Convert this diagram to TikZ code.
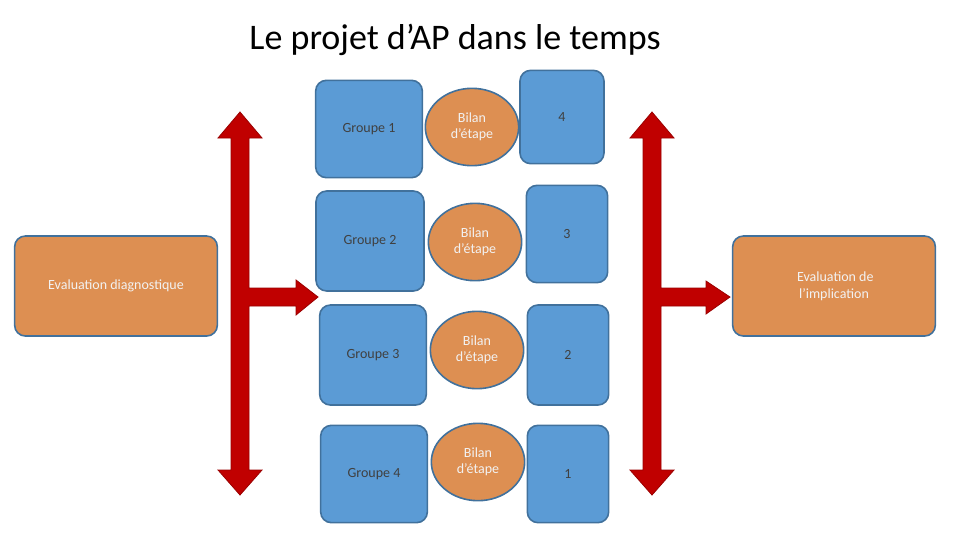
\documentclass[tikz,border=0pt]{standalone}
\usepackage{fontspec}
\setmainfont{Carlito}
\usetikzlibrary{shapes.geometric}
\definecolor{bleu}{HTML}{5B9BD5}
\definecolor{orange}{HTML}{DD8F52}
\definecolor{bord}{HTML}{41719C}
\definecolor{rouge}{HTML}{C00000}
\tikzset{
 bloc/.style={draw=bord,line width=1.2pt,rounded corners=8pt,fill=bleu,font=\fontsize{10.5}{12}\selectfont,text=black!75,align=center},
 grand/.style={draw=bord,line width=1.2pt,rounded corners=8pt,fill=orange,font=\fontsize{10.5}{13}\selectfont,text=white!95!black,align=center},
 bilan/.style={ellipse,draw=bord,line width=1.2pt,fill=orange,minimum width=70pt,minimum height=58pt,font=\fontsize{10.5}{12}\selectfont,text=white!95!black,align=center},
 fleche/.style={fill=rouge,draw=rouge!80!black,line width=0.6pt}
}
\begin{document}
\begin{tikzpicture}[x=0.75pt,y=-0.75pt]
 \useasboundingbox (0,0) rectangle (960,540);
 \node[font=\fontsize{27}{30}\selectfont\addfontfeature{}] (titre) at (455,40) {Le projet d’AP dans le temps};

 % arrows
 \draw[fleche] (240,112) -- (262,138) -- (249,138) -- (249,288) -- (296,288) -- (296,280)
 -- (318,297) -- (296,315) -- (296,306) -- (249,306) -- (249,470) -- (262,470)
 -- (240,495) -- (218,470) -- (231,470) -- (231,138) -- (218,138) -- cycle;
 \draw[fleche] (652,112) -- (674,138) -- (661,138) -- (661,288) -- (706,288) -- (706,281)
 -- (730,297) -- (706,314) -- (706,306) -- (661,306) -- (661,470) -- (674,470)
 -- (652,495) -- (630,470) -- (643,470) -- (643,138) -- (630,138) -- cycle;

 % side boxes
 \node[grand,minimum width=152pt,minimum height=75pt] (diag) at (116,286) {Evaluation diagnostique};
 \node[grand,minimum width=152pt,minimum height=75pt] (impl) at (834,286) {\hspace*{2pt}Evaluation de\\l’implication};

 % groups
 \node[bloc,minimum width=80pt,minimum height=73pt] (g1) at (369,129) {Groupe 1};
 \node[bloc,minimum width=81pt,minimum height=75pt] (g2) at (370,241) {Groupe 2};
 \node[bloc,minimum width=80pt,minimum height=75pt] (g3) at (373,355) {Groupe 3};
 \node[bloc,minimum width=80pt,minimum height=73pt] (g4) at (374,474) {Groupe 4};

 % bilans
 \node[bilan] (b1) at (472,127) {Bilan\\d’étape};
 \node[bilan] (b2) at (475,242) {Bilan\\d’étape};
 \node[bilan] (b3) at (477,350) {Bilan\\d’étape};
 \node[bilan] (b4) at (478,462) {Bilan\\d’étape};

 % steps
 \node[bloc,minimum width=63pt,minimum height=70pt] (n4) at (562,117) {4};
 \node[bloc,minimum width=61pt,minimum height=73pt] (n3) at (567,234) {3};
 \node[bloc,minimum width=61pt,minimum height=75pt] (n2) at (568,355) {2};
 \node[bloc,minimum width=61pt,minimum height=73pt] (n1) at (568,474) {1};
\end{tikzpicture}
\end{document}
